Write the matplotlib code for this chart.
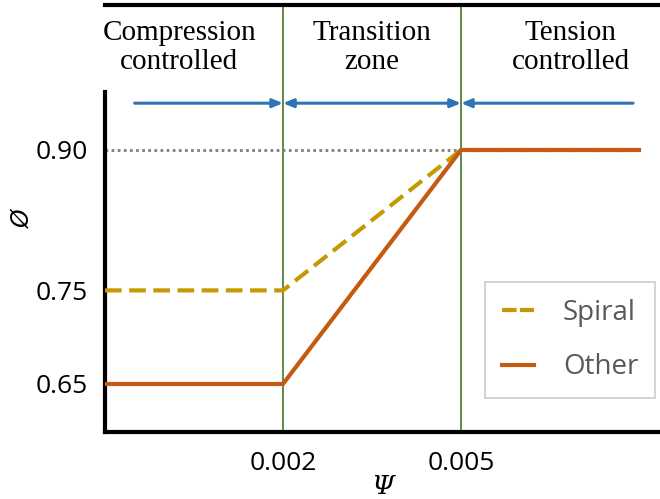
import numpy as np
import matplotlib.pyplot as plt
from matplotlib.lines import Line2D

# strain limits (psi) and strength reduction factors (phi)
psi_spiral = [-0.001, 0.002, 0.005, 0.008]
phi_spiral = [0.75, 0.75, 0.90, 0.90]
psi_other = [-0.001, 0.002, 0.005, 0.008]
phi_other = [0.65, 0.65, 0.90, 0.90]
limits = [0.002, 0.005]
tick_vals = [0.65, 0.75, 0.90]
tick_text = ["0.65", "0.75", "0.90"]
zones = ["Compression\ncontrolled", "Transition\nzone", "Tension\ncontrolled"]
zone_x = [0.00025, 0.0035, 0.00685]

fig = plt.figure(figsize=(6.6, 4.99), dpi=100)
ax = fig.add_axes([105 / 660, 1 - 432 / 499, 555 / 660, 427 / 499])
ax.set_xlim(-0.001, 0.008354)
ax.set_ylim(0.5987, 1.0549)

ax.spines["right"].set_visible(False)
for s in ["left", "bottom", "top"]:
    ax.spines[s].set_linewidth(3)
ax.spines["left"].set_bounds(0.5987, 0.962)

# 0.90 guide
ax.plot([-0.001, 0.005], [0.90, 0.90], color="#7f7f7f", lw=2, ls=(0, (1, 1.2)), zorder=2)

for xv in limits:
    ax.axvline(xv, color="#548235", lw=1.3, zorder=1)

ax.plot(psi_spiral, phi_spiral, color="#c49a00", lw=3, ls=(0, (4, 1.8)), zorder=3)
ax.plot(psi_other, phi_other, color="#c55a11", lw=3, zorder=3)

# zone arrows
arr_y = 0.950
aprops = dict(color="#2e75b6", lw=2.2, shrinkA=0, shrinkB=0)
ax.annotate("", xy=(0.002, arr_y), xytext=(-0.0005, arr_y),
            arrowprops=dict(arrowstyle="-|>,head_length=0.6,head_width=0.25", **aprops))
ax.annotate("", xy=(0.005, arr_y), xytext=(0.002, arr_y),
            arrowprops=dict(arrowstyle="<|-|>,head_length=0.6,head_width=0.25", **aprops))
ax.annotate("", xy=(0.005, arr_y), xytext=(0.0079, arr_y),
            arrowprops=dict(arrowstyle="-|>,head_length=0.6,head_width=0.25", **aprops))

for t, xv in zip(zones, zone_x):
    ax.text(xv, 1.009, t, ha="center", va="center", fontsize=21,
            family="Liberation Serif", linespacing=1.15)

ax.set_yticks(tick_vals)
ax.set_yticklabels(tick_text)
ax.set_xticks(limits)
ax.set_xticklabels(["0.002", "0.005"])
ax.tick_params(axis="both", length=0, labelsize=19)
ax.tick_params(axis="y", pad=12)
ax.tick_params(axis="x", pad=14)
for lab in ax.get_xticklabels() + ax.get_yticklabels():
    lab.set_family("Open Sans")

ax.set_xlabel("Ψ", fontsize=19, family="DejaVu Serif", style="italic", labelpad=-2)
ax.set_ylabel("Ø", fontsize=17, family="DejaVu Sans", style="italic")
ax.yaxis.set_label_coords(-0.128, 0.5)

handles = [Line2D([], [], color="#c49a00", lw=3, ls=(0, (3.5, 0.8))),
           Line2D([], [], color="#c55a11", lw=3)]
leg = ax.legend(handles, ["Spiral", "Other"], loc="lower right",
                bbox_to_anchor=(550 / 555, (432 - 398) / 427),
                prop={"family": "Open Sans", "size": 20}, frameon=True, fancybox=False,
                edgecolor="#bfbfbf", handlelength=1.15, handletextpad=1.05,
                borderpad=0.6, labelspacing=0.95, borderaxespad=0)
leg.get_frame().set_linewidth(1.2)
for txt in leg.get_texts():
    txt.set_color("#595959")

fig.savefig("out.png", dpi=100)
